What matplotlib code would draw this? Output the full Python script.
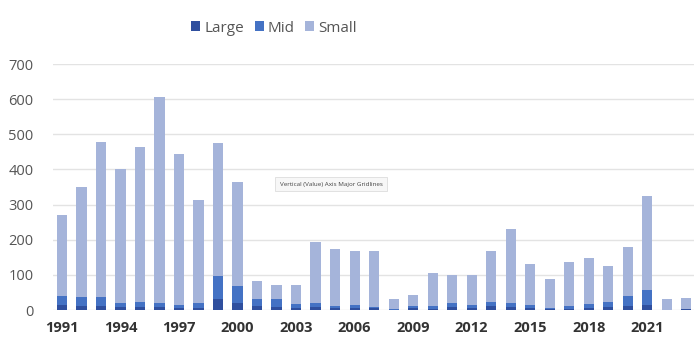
import matplotlib.pyplot as plt
import numpy as np

plt.rcParams['font.family'] = ['Open Sans', 'DejaVu Sans']

years = list(range(1991, 2024))
total = [270, 351, 479, 401, 465, 605, 444, 314, 475, 363,
         82, 71, 70, 193, 173, 167, 168, 31, 43, 106,
         100, 101, 167, 230, 132, 89, 137, 147, 125, 178,
         325, 30, 34]
# large + mid
mid_top = [41, 36, 36, 19, 24, 21, 15, 21, 96, 68,
           31, 30, 17, 19, 11, 15, 9, 2, 11, 11,
           19, 13, 24, 21, 15, 7, 10, 18, 23, 40,
           57, 1, 3]
large = [14, 10, 10, 8, 8, 8, 5, 6, 30, 20,
         10, 8, 6, 8, 5, 6, 5, 0, 5, 4,
         8, 5, 10, 8, 6, 3, 4, 6, 8, 12,
         15, 0, 2]

mid = [m - l for m, l in zip(mid_top, large)]
small = [t - m for t, m in zip(total, mid_top)]

fig = plt.figure(figsize=(6.94, 3.47), dpi=100)
ax = fig.add_axes([53 / 694, 1 - 310 / 347, 1 - 53 / 694, (310 - 64) / 347])

x = np.arange(len(years))
w = 0.52
b1 = ax.bar(x, large, w, color='#2F4F9E', label='Large', zorder=3)
b2 = ax.bar(x, mid, w, bottom=large, color='#4472C4', label='Mid', zorder=3)
b3 = ax.bar(x, small, w, bottom=mid_top, color='#A5B4DA', label='Small', zorder=3)

ax.set_ylim(0, 700)
ax.set_xlim(-0.46, len(years) - 0.6)
ax.set_yticks(range(0, 701, 100))
ax.grid(axis='y', color='#E3E3E3', linewidth=1, zorder=0)
for s in ax.spines.values():
    s.set_visible(False)
ax.tick_params(axis='both', length=0)
ax.tick_params(axis='y', labelsize=10.5, labelcolor='#555555', pad=14)
ax.set_xticks(x[::3])
ax.set_xticklabels([str(y) for y in years[::3]], fontsize=10.5, fontweight='bold', color='#333333')
ax.tick_params(axis='x', pad=8)

fig.legend(handles=[b1, b2, b3], labels=['Large', 'Mid', 'Small'], loc='center',
           bbox_to_anchor=(274 / 694, 1 - 28 / 347), ncol=3, frameon=False,
           fontsize=11, labelcolor='#555555', handlelength=0.6, handleheight=0.6,
           handletextpad=0.25, columnspacing=0.7)

ax.text(0.434, 0.512, 'Vertical (Value) Axis Major Gridlines', transform=ax.transAxes,
        fontsize=4.5, color='#444444', ha='center', va='center', zorder=5,
        bbox=dict(boxstyle='square,pad=0.7', fc='#F7F7F7', ec='#DDDDDD', lw=0.6))

fig.savefig('out.png', dpi=100)
